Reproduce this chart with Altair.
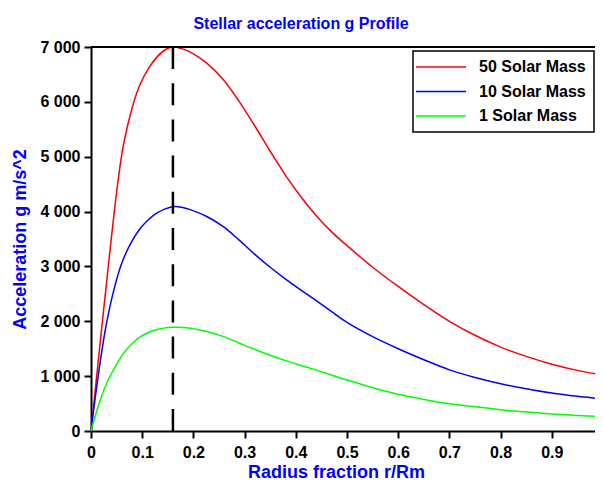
import altair as alt
import pandas as pd

# radius fraction r/Rm (shared grid)
r_vals = [0, 0.005, 0.018, 0.031, 0.05, 0.063, 0.08, 0.096, 0.113, 0.129, 0.145, 0.16,
          0.177, 0.194, 0.226, 0.259, 0.29, 0.32, 0.35, 0.38, 0.41, 0.44, 0.47, 0.5,
          0.55, 0.6, 0.65, 0.7, 0.75, 0.8, 0.85, 0.9, 0.95, 1.0]

g_50 = [0, 450, 1620, 2760, 4350, 5200, 5880, 6320, 6620, 6820, 6950, 7000,
        6970, 6905, 6705, 6400, 6000, 5560, 5100, 4660, 4270, 3925, 3630, 3380,
        2985, 2635, 2305, 2000, 1745, 1530, 1360, 1218, 1105, 1015]

g_10 = [0, 370, 1260, 2000, 2760, 3130, 3460, 3690, 3860, 3975, 4050, 4089,
        4078, 4035, 3910, 3720, 3475, 3220, 2985, 2770, 2570, 2375, 2175, 1980,
        1720, 1500, 1300, 1115, 975, 862, 770, 692, 632, 583]

g_1 = [0, 170, 560, 880, 1215, 1410, 1590, 1715, 1800, 1852, 1880, 1890,
       1886, 1872, 1815, 1720, 1600, 1485, 1380, 1283, 1195, 1110, 1020, 930,
       790, 670, 575, 498, 440, 388, 345, 310, 284, 261]

series_names = ["50 Solar Mass", "10 Solar Mass", "1 Solar Mass"]
series_colors = ["#ff0000", "#0000ff", "#00ff00"]
peak_r = [0.16]
top_g = [7000]

x_ticks = [0, 0.05, 0.1, 0.15, 0.2, 0.25, 0.3, 0.35, 0.4, 0.45, 0.5,
           0.55, 0.6, 0.65, 0.7, 0.75, 0.8, 0.85, 0.9, 0.95, 1.0]
y_ticks = [0, 500, 1000, 1500, 2000, 2500, 3000, 3500, 4000, 4500, 5000,
           5500, 6000, 6500, 7000]

rows = []
for name, vals in zip(series_names, [g_50, g_10, g_1]):
    for r, g in zip(r_vals, vals):
        rows.append({"r": r, "g": g, "series": name})
df = pd.DataFrame(rows)

FONT = "Liberation Sans"
BLUE = "#0000ff"

x_axis = alt.Axis(
    values=x_ticks,
    labelExpr="round(datum.value*100) % 10 == 0 ? format(datum.value, '~g') : ''",
    tickSize={"condition": {"test": "round(datum.value*100) % 10 != 0", "value": 3}, "value": 7},
    labelPadding=6,
    labelOverlap=False,
    labelFlush=False,
    titleX=245,
    titleY=46,
    titleBaseline="alphabetic",
    titleAlign="center",
)
y_axis = alt.Axis(
    values=y_ticks,
    labelExpr="datum.value % 1000 == 0 ? replace(format(datum.value, ','), ',', ' ') : ''",
    tickSize={"condition": {"test": "datum.value % 1000 != 0", "value": 4}, "value": 7},
    labelPadding=4,
    labelOverlap=False,
    labelFlush=False,
    titleX=-66,
    titleY=192,
    titleBaseline="alphabetic",
    titleAlign="center",
)

x_scale = alt.Scale(domain=[0, 1], nice=False, zero=False)
y_scale = alt.Scale(domain=[0, 7000], nice=False)
X_TITLE = "Radius fraction r/Rm"
Y_TITLE = "Acceleration g  m/s^2"

lines = alt.Chart(df).mark_line(strokeWidth=1.5, interpolate="catmull-rom").encode(
    x=alt.X("r:Q", scale=x_scale, axis=x_axis, title=X_TITLE),
    y=alt.Y("g:Q", scale=y_scale, axis=y_axis, title=Y_TITLE),
    color=alt.Color(
        "series:N",
        scale=alt.Scale(domain=series_names, range=series_colors),
        legend=alt.Legend(
            orient="none", legendX=322, legendY=4, title=None,
            symbolType="M-4,0H4", symbolSize=156, symbolStrokeWidth=1.5,
            symbolOffset=12, labelOffset=30,
            labelFont=FONT, labelFontSize=16, labelFontWeight="bold", labelColor="black",
            padding=8, rowPadding=8.5,
            strokeColor="black", fillColor="white",
        ),
    ),
)

peak = alt.Chart(pd.DataFrame({"r": peak_r})).mark_rule(
    color="black", strokeWidth=2.5, strokeDash=[22, 14.2]
).encode(x=alt.X("r:Q", scale=x_scale, title=X_TITLE))

top = alt.Chart(pd.DataFrame({"g": top_g})).mark_rule(
    color="black", strokeWidth=2
).encode(y=alt.Y("g:Q", scale=y_scale, title=Y_TITLE))

chart = alt.layer(lines, peak, top).properties(
    width=512,
    height=384,
    autosize="none",
    padding={"left": 83, "top": 39, "right": -8, "bottom": 51},
    title=alt.TitleParams(
        "Stellar acceleration g Profile",
        font=FONT, fontSize=16, fontWeight="bold", color=BLUE,
        frame="group", anchor="middle", dx=-46, offset=7,
    ),
).configure_view(stroke="transparent").configure_axis(
    grid=False,
    domainColor="black", domainWidth=2,
    tickColor="black", tickWidth=2,
    labelFont=FONT, labelFontSize=16, labelFontWeight="bold", labelColor="black",
    titleFont=FONT, titleFontSize=18, titleFontWeight="bold", titleColor=BLUE,
).configure_legend(strokeWidth=1.5)

chart.save("out.html", embed_options={"renderer": "svg", "actions": False})
